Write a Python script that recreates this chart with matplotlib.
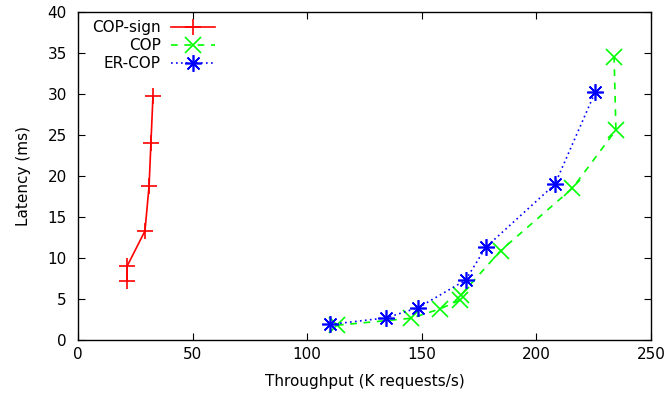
import matplotlib
matplotlib.use("Agg")
import matplotlib.pyplot as plt

# throughput (K requests/s) and latency (ms)
sign_x = [21.4, 21.4, 29.2, 31.0, 31.8, 32.7]
sign_y = [7.2, 9.0, 13.3, 18.8, 24.0, 29.8]

cop_x = [113.0, 145.3, 158.0, 166.8, 167.1, 184.4, 215.7, 234.7, 233.9]
cop_y = [1.8, 2.65, 3.8, 4.9, 5.5, 10.9, 18.5, 25.6, 34.5]

er_x = [110.0, 134.4, 148.5, 169.1, 177.9, 208.1, 225.6]
er_y = [1.9, 2.7, 3.95, 7.3, 11.3, 19.0, 30.2]

plt.rcParams['font.family'] = ['DejaVu Sans']
plt.rcParams['font.size'] = 11

fig = plt.figure(figsize=(6.67, 3.96), dpi=100)
ax = fig.add_axes([0.117, 0.1414, 0.859, 0.8283])

ax.plot(sign_x, sign_y, color='#ff0000', lw=1.2, marker='+', ms=11, mew=1.2,
        label='COP-sign')
ax.plot(cop_x, cop_y, color='#00ff00', lw=1.2, dashes=(4, 4), marker='x', ms=11, mew=1.2,
        label='COP')
ax.plot(er_x, er_y, color='#0000ff', lw=1.2, linestyle=(0, (1, 2)), marker=(8, 2, 0),
        ms=12, mew=1.2, label='ER-COP')

ax.set_xlim(0, 250)
ax.set_ylim(0, 40)
ax.set_xticks(range(0, 251, 50))
ax.set_yticks(range(0, 41, 5))
ax.tick_params(direction='in', top=True, right=True, length=5, width=0.8)
ax.tick_params(axis='x', pad=5)
ax.tick_params(axis='y', pad=8)
for s in ax.spines.values():
    s.set_linewidth(1.0)

ax.set_xlabel('Throughput (K requests/s)', labelpad=9)
ax.set_ylabel('Latency (ms)', labelpad=12)

leg = ax.legend(loc='upper right', bbox_to_anchor=(0.239, 0.975), frameon=False,
                markerfirst=False, handlelength=2.9, handletextpad=0.65,
                labelspacing=0.2, borderaxespad=0, borderpad=0)
for t in leg.get_texts():
    t.set_ha('right')
leg._legend_box.align = 'right'

fig.savefig('out.png', dpi=100)
plt.close('all')
